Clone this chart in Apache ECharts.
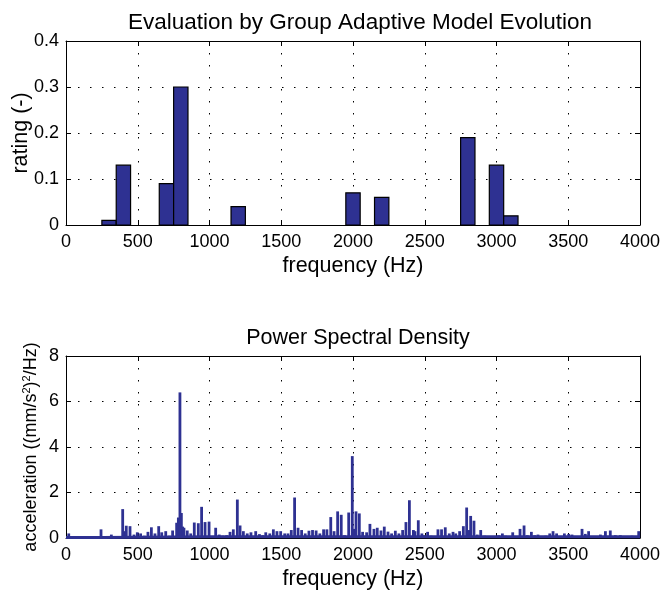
<!DOCTYPE html>
<html><head><meta charset="utf-8">
<script src="https://cdn.jsdelivr.net/npm/echarts@6/dist/echarts.min.js"></script>
<style>html,body{margin:0;padding:0;background:#fff}#c{width:662px;height:592px}</style>
</head><body><div id="c"></div>
<script>
// ---- Data ----
const ratingFreq = [300, 400, 700, 800, 1200, 2000, 2200, 2800, 3000, 3100];
const ratingVal  = [0.01, 0.13, 0.09, 0.30, 0.04, 0.07, 0.06, 0.19, 0.13, 0.02];
const binWidth = 100;

const psdFreq = [19,146,244,270,316,340,406,395,420,446,474,497,520,546,571,595,620,646,
  667,695,720,743,771,783,794,804,813,822,845,869,894,922,945,969,997,1020,1043,1068,1092,1120,
  1143,1166,1194,1213,1236,1263,1289,1322,1348,1371,1392,1420,1445,1470,1496,1524,1547,1570,
  1593,1617,1642,1667,1693,1718,1743,1769,1795,1818,1845,1868,1893,1918,1941,1970,1995,2006,
  2021,2044,2067,2095,2118,2146,2169,2195,2218,2244,2269,2295,2320,2346,2369,2393,2421,2432,
  2455,2480,2495,2520,2544,2569,2592,2617,2643,2671,2697,2716,2743,2769,2792,2806,2820,2843,
  2866,2890,2918,2938,2983,3015,3041,3064,3113,3164,3192,3215,3243,3266,3289,3315,3343,3371,
  3394,3419,3445,3473,3503,3526,3561,3596,3619,3642,3677,3724,3759,3793,3828,3863,3898,3944,3991];
const psdVal = [0.2,0.05,0.38,0.05,0.15,0.08,0.3,1.27,0.54,0.52,0.15,0.25,0.2,0.1,0.27,0.47,0.2,0.52,
  0.25,0.3,0.1,0.33,0.67,0.9,6.4,1.1,0.5,0.45,0.33,0.2,0.68,0.65,1.37,0.7,0.72,0.07,0.45,0.15,0.1,0.12,
  0.27,0.38,1.69,0.55,0.3,0.2,0.25,0.3,0.17,0.12,0.25,0.2,0.38,0.3,0.3,0.2,0.2,0.35,
  1.78,0.45,0.35,0.2,0.32,0.35,0.33,0.2,0.38,0.38,0.92,0.3,1.17,1.02,0.12,1.12,3.6,0.4,
  1.17,1.08,0.27,0.25,0.62,0.4,0.45,0.33,0.5,0.28,0.2,0.32,0.2,0.35,0.7,1.66,0.35,0.3,
  0.78,0.2,0.12,0.27,0.1,0.08,0.38,0.38,0.47,0.2,0.27,0.2,0.3,0.52,1.34,0.35,0.97,0.76,
  0.15,0.35,0.1,0.06,0.06,0.12,0.2,0.1,0.25,0.4,0.55,0.12,0.27,0.12,0.15,0.08,0.1,0.2,
  0.3,0.2,0.08,0.2,0.18,0.15,0.08,0.4,0.18,0.3,0.08,0.15,0.3,0.33,0.12,0.12,0.08,0.1,0.3];
const floorFreq = [0, 250, 260, 1000, 2000, 3000, 4000];
const floorVal  = [0.02, 0.02, 0.05, 0.05, 0.05, 0.05, 0.05];

const xTicks = [0, 500, 1000, 1500, 2000, 2500, 3000, 3500, 4000];

// ---- Chart ----
const FONT = 'Liberation Sans, Arial, Helvetica, sans-serif';
const BLUE = '#2e3192';
const chart = echarts.init(document.getElementById('c'), null, {renderer: 'canvas'});

const dotted = {show: true, lineStyle: {color: '#000', width: 1, type: [1.5, 10.5]}};
function mainX(gi) {
  return {gridIndex: gi, type: 'value', min: xTicks[0], max: xTicks[xTicks.length-1], interval: 500,
    name: 'frequency (Hz)', nameLocation: 'middle', nameGap: 30, nameMoveOverlap: false,
    nameTextStyle: {fontFamily: FONT, fontSize: 21.5, color: '#000'},
    axisLine: {show: true, onZero: false, lineStyle: {color: '#000', width: 1}},
    axisTick: {show: true, inside: true, length: 5, lineStyle: {color: '#000'}},
    axisLabel: {fontFamily: FONT, fontSize: 18, color: '#000', margin: 8,
      formatter: v => String(v)},
    splitLine: dotted};
}
function boxX(gi) {
  return {gridIndex: gi, type: 'value', position: 'top', min: 0, max: 4000, interval: 500,
    axisLine: {show: true, onZero: false, lineStyle: {color: '#000', width: 1}},
    axisTick: {show: true, inside: true, length: 5, lineStyle: {color: '#000'}},
    axisLabel: {show: false}, splitLine: {show: false}};
}
function boxY(gi, max, interval) {
  return {gridIndex: gi, type: 'value', position: 'right', min: 0, max: max, interval: interval,
    axisLine: {show: true, onZero: false, lineStyle: {color: '#000', width: 1}},
    axisTick: {show: true, inside: true, length: 5, lineStyle: {color: '#000'}},
    axisLabel: {show: false}, splitLine: {show: false}};
}

const option = {
  backgroundColor: '#fff',
  animation: false,
  title: [
    {text: 'Evaluation by Group Adaptive Model Evolution', left: 355, top: 6, textAlign: 'center',
      textStyle: {fontFamily: FONT, fontSize: 22.5, fontWeight: 'normal', color: '#000'}},
    {text: 'Power Spectral Density', left: 353, top: 322, textAlign: 'center',
      textStyle: {fontFamily: FONT, fontSize: 21.5, fontWeight: 'normal', color: '#000'}}
  ],
  grid: [
    {left: 66, right: 22, top: 41, height: 184, containLabel: false, outerBoundsMode: 'none'},
    {left: 66, right: 22, top: 356, height: 182, containLabel: false, outerBoundsMode: 'none'}
  ],
  xAxis: [mainX(0), boxX(0), mainX(1), boxX(1)],
  yAxis: [
    {gridIndex: 0, type: 'value', min: 0, max: 0.4, interval: 0.1,
      name: 'rating (-)', nameLocation: 'middle', nameGap: 34, nameMoveOverlap: false,
      nameTextStyle: {fontFamily: FONT, fontSize: 21.5, color: '#000'},
      axisLine: {show: true, onZero: false, lineStyle: {color: '#000'}},
      axisTick: {show: true, inside: true, length: 5, lineStyle: {color: '#000'}},
      axisLabel: {fontFamily: FONT, fontSize: 18, color: '#000', margin: 7},
      splitLine: dotted},
    boxY(0, 0.4, 0.1),
    {gridIndex: 1, type: 'value', min: 0, max: 8, interval: 2,
      name: '{a|acceleration ((mm/s}{s|2}{a|)}{s|2}{a|/Hz)}', nameLocation: 'middle', nameGap: 24,
      nameMoveOverlap: false,
      nameTextStyle: {fontFamily: FONT, fontSize: 18, color: '#000',
        rich: {
          a: {fontFamily: FONT, fontSize: 18, color: '#000', lineHeight: 22},
          s: {fontFamily: FONT, fontSize: 11, color: '#000', lineHeight: 22, padding: [0, 0, 9, 0]}
        }},
      axisLine: {show: true, onZero: false, lineStyle: {color: '#000'}},
      axisTick: {show: true, inside: true, length: 5, lineStyle: {color: '#000'}},
      axisLabel: {fontFamily: FONT, fontSize: 18, color: '#000', margin: 7},
      splitLine: dotted},
    boxY(1, 8, 2)
  ],
  series: [
    {type: 'custom', xAxisIndex: 0, yAxisIndex: 0,
      data: ratingFreq.map((f, i) => [f, ratingVal[i]]),
      encode: {x: 0, y: 1},
      renderItem: function (params, api) {
        const f = api.value(0), v = api.value(1);
        const p0 = api.coord([f - binWidth / 2, v]);
        const p1 = api.coord([f + binWidth / 2, 0]);
        return {type: 'rect',
          shape: {x: p0[0], y: p0[1], width: p1[0] - p0[0], height: p1[1] - p0[1]},
          style: {fill: BLUE, stroke: '#000', lineWidth: 1.2}};
      }},
    {type: 'line', xAxisIndex: 2, yAxisIndex: 2, showSymbol: false, symbol: 'none',
      data: floorFreq.map((f, i) => [f, floorVal[i]]),
      lineStyle: {color: BLUE, width: 3}},
    {type: 'bar', xAxisIndex: 2, yAxisIndex: 2, barWidth: 2.8,
      data: psdFreq.map((f, i) => [f, psdVal[i]]),
      itemStyle: {color: BLUE}}
  ]
};
chart.setOption(option);
</script>
</body></html>
